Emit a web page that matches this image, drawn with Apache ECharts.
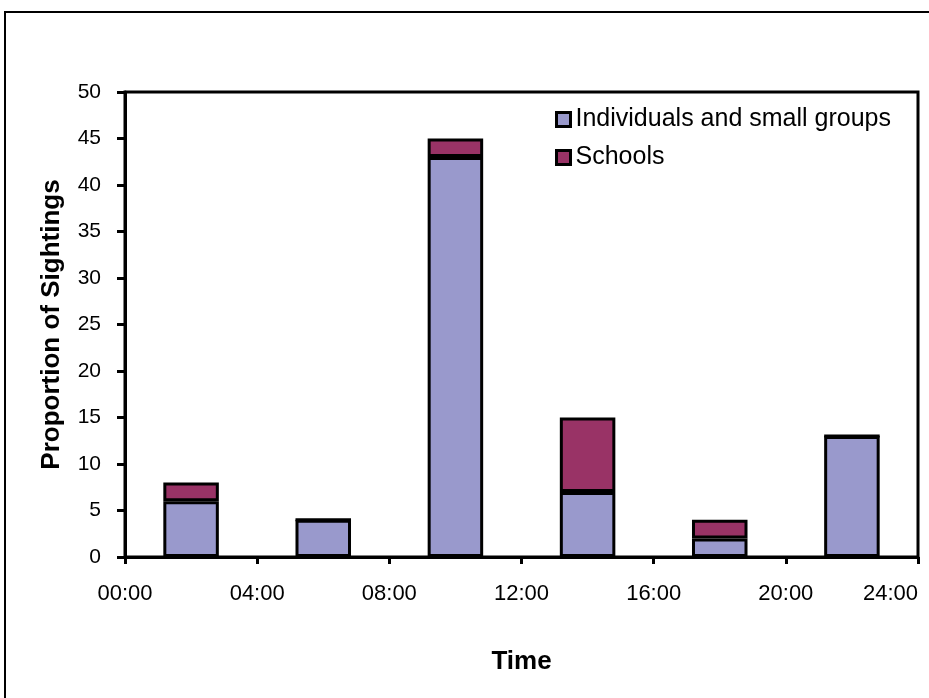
<!DOCTYPE html>
<html>
<head>
<meta charset="utf-8">
<script src="https://cdn.jsdelivr.net/npm/echarts@6/dist/echarts.min.js"></script>
<style>html,body{margin:0;padding:0;background:#fff;}#c{width:929px;height:698px;}</style>
</head>
<body>
<div id="c"></div>
<script>
var categories = ['00-04', '04-08', '08-12', '12-16', '16-20', '20-24'];
var individuals = [6, 4, 43, 7, 2, 13];
var schools = [2, 0, 2, 8, 2, 0];
var tickLabels = ['00:00', '04:00', '08:00', '12:00', '16:00', '20:00', '24:00'];
var seriesNames = ['Individuals and small groups', 'Schools'];
var FONT = '"Liberation Sans", Arial, sans-serif';

var chart = echarts.init(document.getElementById('c'), null, {renderer: 'canvas'});
chart.setOption({
  animation: false,
  backgroundColor: '#fff',
  textStyle: {fontFamily: FONT, color: '#000'},
  graphic: [{
    type: 'rect', shape: {x: 5, y: 12, width: 940, height: 700},
    style: {fill: 'none', stroke: '#000', lineWidth: 2}, z: -1
  }],
  grid: {left: 125, right: 11, top: 92, bottom: 141, show: true, borderColor: '#000', borderWidth: 3, backgroundColor: 'transparent'},
  legend: {
    left: 550, top: 102, orient: 'vertical', itemWidth: 14, itemHeight: 14, itemGap: 13,
    icon: 'rect',
    itemStyle: {borderColor: '#000', borderWidth: 3},
    textStyle: {fontSize: 25, color: '#000', fontFamily: FONT},
    data: seriesNames
  },
  xAxis: [{
    type: 'category', data: categories, boundaryGap: true,
    axisLabel: {show: false}, axisTick: {show: false},
    axisLine: {lineStyle: {color: '#000', width: 3}},
    name: 'Time', nameLocation: 'middle', nameGap: 92,
    nameTextStyle: {fontSize: 26, fontWeight: 'bold', color: '#000', fontFamily: FONT}
  }, {
    type: 'value', min: 0, max: 24, interval: 4, position: 'bottom',
    axisLine: {show: false}, splitLine: {show: false},
    axisTick: {show: true, length: 7, lineStyle: {color: '#000', width: 3}},
    axisLabel: {fontSize: 22, color: '#000', margin: 26, fontFamily: FONT,
      alignMaxLabel: 'right',
      formatter: function (v) { return tickLabels[Math.round(v / 4)]; }}
  }],
  yAxis: {
    type: 'value', min: 0, max: 50, interval: 5,
    axisLine: {show: true, lineStyle: {color: '#000', width: 3}},
    axisTick: {show: true, length: 8, lineStyle: {color: '#000', width: 3}},
    splitLine: {show: false},
    axisLabel: {fontSize: 21, color: '#000', margin: 24, fontFamily: FONT},
    name: 'Proportion of Sightings', nameLocation: 'middle', nameGap: 60, nameRotate: 90,
    nameTextStyle: {fontSize: 26, fontWeight: 'bold', color: '#000', fontFamily: FONT}
  },
  series: [{
    name: seriesNames[0], type: 'bar', stack: 's', xAxisIndex: 0, barWidth: '42%',
    data: individuals,
    itemStyle: {color: '#9999CC', borderColor: '#000', borderWidth: 3}
  }, {
    name: seriesNames[1], type: 'bar', stack: 's', xAxisIndex: 0, barWidth: '42%',
    data: schools,
    itemStyle: {color: '#993366', borderColor: '#000', borderWidth: 3}
  }]
});
</script>
</body>
</html>
